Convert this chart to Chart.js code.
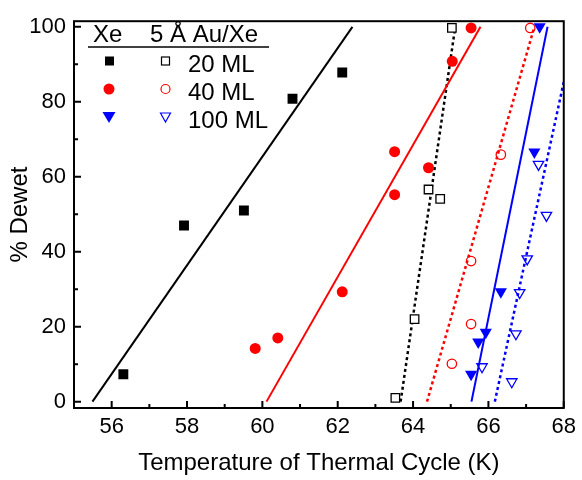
<!DOCTYPE html>
<html>
<head>
<meta charset="utf-8">
<script src="https://cdn.jsdelivr.net/npm/chart.js@4/dist/chart.umd.min.js"></script>
<style>
  html, body { margin: 0; padding: 0; background: #fff; }
</style>
</head>
<body>
<canvas id="myChart" width="582" height="480"></canvas>
<script>
// measured points: temperature (K) and % dewet
var xe20_T = [56.31, 57.92, 59.51, 60.80, 62.12];
var xe20_D = [7.3, 47.0, 51.0, 80.8, 87.8];
var xe40_T = [59.81, 60.41, 62.12, 63.51, 63.51, 64.41, 65.04, 65.54];
var xe40_D = [14.2, 17.0, 29.3, 55.2, 66.7, 62.4, 90.8, 99.7];
var xe100_T = [65.54, 65.73, 65.93, 66.33, 67.22, 67.36];
var xe100_D = [7.3, 15.9, 18.5, 29.3, 66.6, 100.0];
var au20_T = [63.53, 64.04, 64.41, 64.72, 65.03];
var au20_D = [1.0, 22.0, 56.6, 54.1, 99.7];
var au40_T = [65.03, 65.54, 65.54, 66.33, 67.11];
var au40_D = [10.1, 20.7, 37.5, 65.9, 99.7];
var au100_T = [65.83, 66.62, 66.73, 66.83, 67.03, 67.33, 67.54];
var au100_D = [9.3, 5.3, 18.1, 29.1, 38.1, 63.3, 49.7];

// linear fits, end points
var fitXe20 = [[55.49, 0], [62.39, 100]];
var fitXe40 = [[60.11, 0], [65.79, 100]];
var fitXe100 = [[65.55, 0], [67.57, 100]];
var fitAu20 = [[63.67, 0], [65.12, 100]];
var fitAu40 = [[64.37, 0], [67.22, 100]];
var fitAu100 = [[66.17, 0], [68.0, 85.3]];

var xTicks = [56, 58, 60, 62, 64, 66, 68];
var xMinor = [57, 59, 61, 63, 65, 67];
var yTicks = [0, 20, 40, 60, 80, 100];
var yMinor = [10, 30, 50, 70, 90];

var legendRows = ['20 ML', '40 ML', '100 ML'];

var FONT = "'Liberation Sans', Arial, sans-serif";

function pts(T, D) {
  return T.map(function (t, i) { return { x: t, y: D[i] }; });
}
function fit(f) {
  return f.map(function (p) { return { x: p[0], y: p[1] }; });
}
function fitLine(f, color, dash) {
  return {
    data: fit(f), showLine: true, pointRadius: 0, borderColor: color,
    borderWidth: dash ? 2.5 : 2, borderDash: dash ? [3, 3] : [], fill: false
  };
}

var RED = '#ff0000', BLUE = '#0000ff';

var frame = {
  id: 'frame',
  afterDraw: function (chart) {
    var ctx = chart.ctx, a = chart.chartArea;
    var sx = chart.scales.x, sy = chart.scales.y;
    ctx.save();
    ctx.strokeStyle = '#000';
    ctx.lineWidth = 2;
    ctx.strokeRect(a.left, a.top, a.right - a.left, a.bottom - a.top);
    ctx.beginPath();
    xTicks.forEach(function (v) { var p = sx.getPixelForValue(v); ctx.moveTo(p, a.bottom); ctx.lineTo(p, a.bottom - 7); });
    xMinor.forEach(function (v) { var p = sx.getPixelForValue(v); ctx.moveTo(p, a.bottom); ctx.lineTo(p, a.bottom - 4); });
    yTicks.forEach(function (v) { var p = sy.getPixelForValue(v); ctx.moveTo(a.left, p); ctx.lineTo(a.left + 7, p); });
    yMinor.forEach(function (v) { var p = sy.getPixelForValue(v); ctx.moveTo(a.left, p); ctx.lineTo(a.left + 4, p); });
    ctx.stroke();

    // two column legend
    ctx.fillStyle = '#000';
    ctx.font = '24px ' + FONT;
    ctx.textBaseline = 'alphabetic';
    ctx.fillText('Xe', 93, 42);
    ctx.fillText('5 \u00c5 Au/Xe', 150, 42);
    ctx.lineWidth = 1.5;
    ctx.beginPath(); ctx.moveTo(88, 47); ctx.lineTo(269, 47); ctx.stroke();
    legendRows.forEach(function (t, i) {
      ctx.fillStyle = '#000';
      ctx.fillText(t, 188, 72 + i * 28);
    });
    var r0 = 61, r1 = 89, r2 = 117;
    // squares
    ctx.fillStyle = '#000';
    ctx.fillRect(105, r0 - 4.5, 9, 9);
    ctx.lineWidth = 1.2;
    ctx.strokeStyle = '#000';
    ctx.strokeRect(161.5, r0 - 4, 8, 8);
    // circles
    ctx.fillStyle = RED;
    ctx.beginPath(); ctx.arc(109, r1, 5.5, 0, Math.PI * 2); ctx.fill();
    ctx.strokeStyle = RED;
    ctx.beginPath(); ctx.arc(165.5, r1, 4.5, 0, Math.PI * 2); ctx.stroke();
    // triangles
    ctx.fillStyle = BLUE;
    ctx.beginPath(); ctx.moveTo(102.5, r2 - 5); ctx.lineTo(115.5, r2 - 5); ctx.lineTo(109, r2 + 6); ctx.closePath(); ctx.fill();
    ctx.strokeStyle = BLUE;
    ctx.beginPath(); ctx.moveTo(160.5, r2 - 4); ctx.lineTo(170.5, r2 - 4); ctx.lineTo(165.5, r2 + 5); ctx.closePath(); ctx.stroke();
    ctx.restore();
  }
};

var ctx = document.getElementById('myChart');
var chart = new Chart(ctx, {
  type: 'scatter',
  data: {
    datasets: [
      { data: pts(xe20_T, xe20_D), pointStyle: 'rect', pointRadius: 7, backgroundColor: '#000', borderColor: '#000', borderWidth: 0 },
      { data: pts(xe40_T, xe40_D), pointStyle: 'circle', pointRadius: 5.5, backgroundColor: RED, borderColor: RED, borderWidth: 0 },
      { data: pts(xe100_T, xe100_D), pointStyle: 'triangle', rotation: 180, pointRadius: 7, backgroundColor: BLUE, borderColor: BLUE, borderWidth: 0 },
      { data: pts(au20_T, au20_D), pointStyle: 'rect', pointRadius: 6, backgroundColor: '#fff', borderColor: '#000', borderWidth: 1.3 },
      { data: pts(au40_T, au40_D), pointStyle: 'circle', pointRadius: 4.7, backgroundColor: 'rgba(255,255,255,0)', borderColor: RED, borderWidth: 1.3 },
      { data: pts(au100_T, au100_D), pointStyle: 'triangle', rotation: 180, pointRadius: 6, backgroundColor: 'rgba(255,255,255,0)', borderColor: BLUE, borderWidth: 1.3 },
      fitLine(fitXe20, '#000', false),
      fitLine(fitXe40, RED, false),
      fitLine(fitXe100, BLUE, false),
      fitLine(fitAu20, '#000', true),
      fitLine(fitAu40, RED, true),
      fitLine(fitAu100, BLUE, true)
    ]
  },
  options: {
    responsive: false,
    animation: false,
    devicePixelRatio: 1,
    layout: { padding: { top: 9, right: 15, left: 0, bottom: 0 } },
    plugins: { legend: { display: false }, tooltip: { enabled: false } },
    scales: {
      x: {
        type: 'linear', min: 55, max: 68,
        grid: { display: false, drawTicks: false },
        border: { display: false },
        afterBuildTicks: function (s) { s.ticks = xTicks.map(function (v) { return { value: v }; }); },
        afterFit: function (s) { s.height = 72; },
        ticks: { color: '#000', padding: 6, font: { family: FONT, size: 22 } },
        title: { display: true, text: 'Temperature of Thermal Cycle (K)', color: '#000',
                 font: { family: FONT, size: 24, lineHeight: 1.0 }, padding: { top: 0, bottom: 5 } }
      },
      y: {
        type: 'linear', min: -1.7, max: 101.5,
        grid: { display: false, drawTicks: false },
        border: { display: false },
        afterBuildTicks: function (s) { s.ticks = yTicks.map(function (v) { return { value: v }; }); },
        afterFit: function (s) { s.width = 74; },
        ticks: { color: '#000', padding: 8, font: { family: FONT, size: 22 } },
        title: { display: true, text: '% Dewet', color: '#000',
                 font: { family: FONT, size: 24, lineHeight: 1.0 }, padding: { top: 8, bottom: 0 } }
      }
    }
  },
  plugins: [frame]
});
</script>
</body>
</html>
